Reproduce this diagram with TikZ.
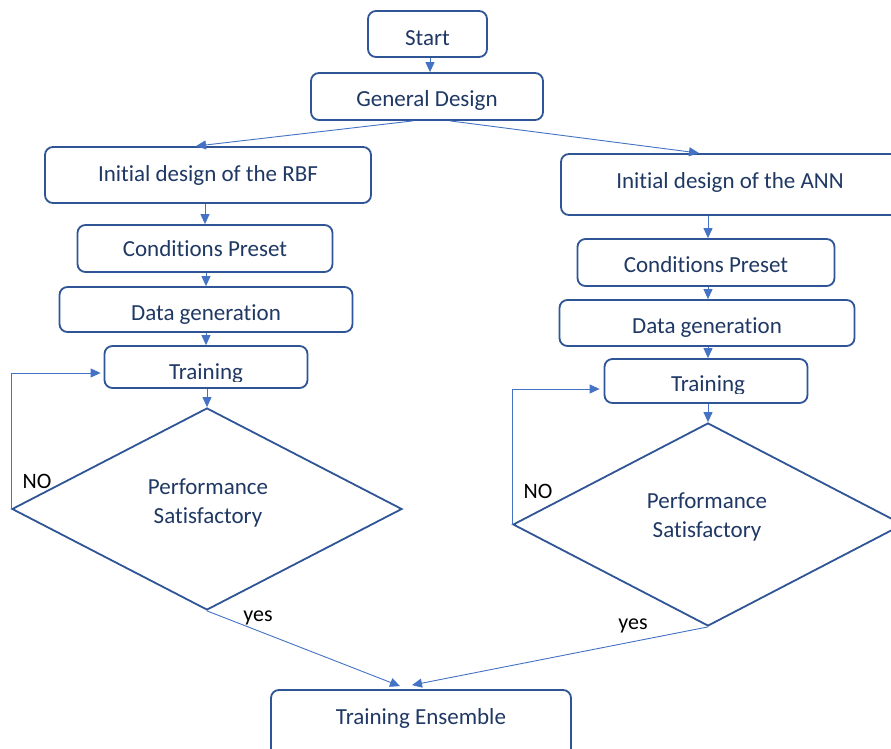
\documentclass[tikz,border=0pt]{standalone}
\usepackage{fontspec}
\setmainfont[Ligatures=NoCommon]{Carlito}
\usetikzlibrary{arrows.meta,shapes.geometric,calc}
\definecolor{boxline}{RGB}{47,85,151}
\definecolor{conn}{RGB}{68,114,196}
\definecolor{txt}{RGB}{31,56,100}
\begin{document}
\begin{tikzpicture}[x=1pt,y=-1pt,
  box/.style={draw=boxline,line width=1.8pt,rounded corners=8pt,text=txt,
    font=\fontsize{23}{27}\selectfont,inner sep=0pt,minimum width=#1},
  decision/.style={draw=boxline,line width=1.8pt,shape=diamond,inner sep=0pt},
  dtext/.style={text=txt,font=\fontsize{23}{29}\selectfont,align=center,inner sep=0pt},
  btext/.style={text=txt,font=\fontsize{23}{27}\selectfont,inner sep=0pt,anchor=base},
  lab/.style={text=black,font=\fontsize{22}{26}\selectfont,inner sep=0pt},
  conn/.style={draw=conn,line width=0.9pt,-{Triangle[length=10pt,width=9pt]}}]
\clip (0,0) rectangle (891,749);
\fill[white] (0,0) rectangle (891,749);
% boxes
\node[box=119pt,minimum height=46pt] (start) at (427.5,34) {};
\node[btext] (starttext) at (427.5,46) {Start};
\node[box=232pt,minimum height=47pt] (gd) at (427,96.5) {};
\node[btext] (gdtext) at (427,107) {General Design};
\node[box=326pt,minimum height=56pt] (rbf) at (208,175) {Initial design of the RBF};
\node[box=344pt,minimum height=61pt] (ann) at (733,184.5) {};
\node[btext] (anntext) at (730,188) {Initial design of the ANN};
\node[box=255pt,minimum height=47pt] (cpl) at (205,248.5) {\raisebox{-1pt}{Conditions Preset}};
\node[box=293pt,minimum height=45pt] (dgl) at (206,309.5) {};
\node[btext] (dgltext) at (206,320) {Data generation};
\node[box=203pt,minimum height=42pt] (trl) at (206,367) {};
\node[box=257pt,minimum height=47pt] (cpr) at (706,262.5) {};
\node[btext] (cprtext) at (706,272.5) {Conditions Preset};
\node[box=295pt,minimum height=46pt] (dgr) at (707,323) {};
\node[btext] (dgrtext) at (707,333) {Data generation};
\node[box=203pt,minimum height=44pt] (trr) at (706,381) {};
\node[box=300pt,minimum height=70pt] (te) at (421,725) {};
\node[btext] (tetext) at (421,724) {Training Ensemble};
\begin{scope}
  \clip (100,340) rectangle (320,381);
  \node[btext] (trltext) at (206,379) {Training};
\end{scope}
\begin{scope}
  \clip (600,355) rectangle (820,393);
  \node[btext] (trrtext) at (708,391) {Training};
\end{scope}
% decisions
\node[decision,minimum width=390pt,minimum height=202pt] (dl) at (207,509) {};
\node[dtext] (dltext) at (208,503) {Performance\\Satisfactory};
\node[decision,minimum width=390pt,minimum height=203pt] (dr) at (708,524.5) {};
\node[dtext] (drtext) at (707,517) {Performance\\Satisfactory};
% labels
\node[lab] (nol) at (37,481) {NO};
\node[lab] (nor) at (538,491) {NO};
\node[lab] (yesl) at (258,618) {yes};
\node[lab] (yesr) at (633,626) {yes};
% connectors
\draw[conn] (start.south -| 430,0) -- (gd.north -| 430,0);
\draw[conn] ([xshift=-14pt]gd.south) -- ([xshift=-12pt]rbf.north);
\draw[conn] ([xshift=23pt]gd.south) -- ([xshift=-34pt]ann.north);
\draw[conn] (cpl.north |- rbf.south) -- (cpl.north);
\draw[conn] (dgl.north |- cpl.south) -- (dgl.north);
\draw[conn] (trl.north |- dgl.south) -- (trl.north);
\draw[conn] (dl.north |- trl.south) -- (dl.north);
\draw[conn] (708,0 |- ann.south) -- (708,0 |- cpr.north);
\draw[conn] (708,0 |- cpr.south) -- (708,0 |- dgr.north);
\draw[conn] (708,0 |- dgr.south) -- (708,0 |- trr.north);
\draw[conn] (dr.north |- trr.south) -- (dr.north);
\draw[conn,shorten >=3pt] (dl.west) |- ([yshift=-6pt]trl.west);
\draw[conn,shorten >=4pt] (dr.west) |- ([yshift=-8pt]trr.west);
\draw[conn] (dl.south) -- ([xshift=-21pt,yshift=3pt]te.north);
\draw[conn] (dr.south) -- ([xshift=-9pt,yshift=4pt]te.north);
\end{tikzpicture}
\end{document}
